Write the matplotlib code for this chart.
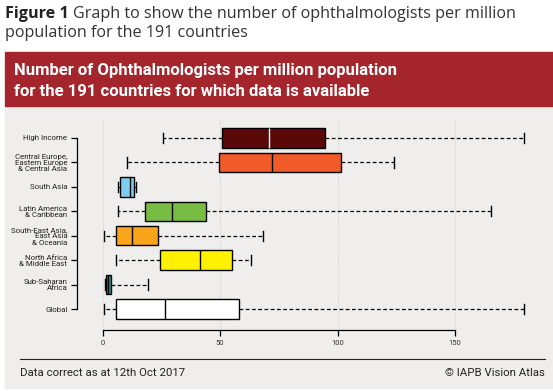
import matplotlib
matplotlib.use("Agg")
import matplotlib.pyplot as plt
from matplotlib.patches import Rectangle

categories = ["High Income", "Central Europe,\nEastern Europe\n& Central Asia", "South Asia",
              "Latin America\n& Caribbean", "South-East Asia,\nEast Asia\n& Oceania",
              "North Africa\n& Middle East", "Sub-Saharan\nAfrica", "Global"]
whisker_low = [25.7, 10.5, 6.8, 6.7, 0.8, 5.8, 1.0, 0.8]
q1 = [50.9, 49.5, 7.5, 18.1, 5.8, 24.6, 1.6, 5.8]
median = [70.9, 72.1, 11.7, 29.5, 12.7, 41.3, 2.4, 26.5]
q3 = [94.8, 101.7, 13.6, 44.0, 23.6, 55.2, 3.7, 57.9]
whisker_high = [179.4, 124.1, 14.4, 165.5, 68.3, 63.3, 19.3, 179.4]
box_colors = ["#5a0808", "#f15a29", "#7fcdee", "#78bd43", "#f8a51c", "#fff100", "#169a8e", "#ffffff"]
median_colors = ["white", "black", "black", "black", "black", "black", "black", "black"]
xticks = [0, 50, 100, 150]

W, H = 553, 391
fig = plt.figure(figsize=(W / 100, H / 100), dpi=100)
fig.patch.set_facecolor("white")

def fx(px):
    return px / W

def fy(py):
    return 1 - py / H

narrow = ["Roboto", "DejaVu Sans"]

# grey panel and red banner
fig.patches.append(Rectangle((fx(5), fy(388)), fx(548), (388 - 106) / H,
                             transform=fig.transFigure, color="#efeeec", zorder=-10))
fig.patches.append(Rectangle((fx(5), fy(106)), fx(548), (106 - 52) / H,
                             transform=fig.transFigure, color="#a4262c", zorder=-10))

# figure caption
t1 = fig.text(fx(5), fy(14), "Figure 1", fontsize=11.6, family="Open Sans", weight="bold",
              va="center", color="#222222")
renderer = fig.canvas.get_renderer()
bb = t1.get_window_extent(renderer)
fig.text(bb.x1 / W + fx(4), fy(14), "Graph to show the number of ophthalmologists per million",
         fontsize=11.6, family="Open Sans", va="center", color="#333333")
fig.text(fx(5), fy(33), "population for the 191 countries", fontsize=11.6, family="Open Sans",
         va="center", color="#333333")

fig.text(fx(14), fy(71), "Number of Ophthalmologists per million population",
         fontsize=12, family=narrow, weight="bold", color="white", va="center")
fig.text(fx(14), fy(91), "for the 191 countries for which data is available",
         fontsize=12, family=narrow, weight="bold", color="white", va="center")

# axes
x0px, x1px = 77, 540
y_top, y_bot = 120, 330
ax = fig.add_axes([fx(x0px), fy(y_bot), (x1px - x0px) / W, (y_bot - y_top) / H])
ax.set_zorder(1)
ax.set_facecolor("none")
scale = 2.35
zero_px = 102.5
ax.set_xlim((x0px - zero_px) / scale, (x1px - zero_px) / scale)
n = len(categories)
positions = list(range(n, 0, -1))
sp = (309 - 138) / (n - 1)
ax.set_ylim(1 - (y_bot - 309) / sp, n + (138 - y_top) / sp)

stats = []
for i in range(n):
    stats.append(dict(whislo=whisker_low[i], q1=q1[i], med=median[i], q3=q3[i],
                      whishi=whisker_high[i], fliers=[], label=categories[i]))

bp = ax.bxp(stats, positions=positions, vert=False, widths=0.8, patch_artist=True,
            showfliers=False, capwidths=0.42,
            boxprops=dict(edgecolor="black", linewidth=1.0),
            whiskerprops=dict(color="black", linewidth=0.9, linestyle=(0, (3, 2))),
            capprops=dict(color="black", linewidth=1.0),
            medianprops=dict(linewidth=1.0), zorder=3)
for patch, c in zip(bp["boxes"], box_colors):
    patch.set_facecolor(c)
for m, c in zip(bp["medians"], median_colors):
    m.set_color(c)

for xv in xticks:
    ax.axvline(xv, color="#d4d4d4", linewidth=0.8, linestyle=(0, (1, 1)), zorder=1)

ax.set_xticks(xticks)
ax.set_xticklabels([str(v) for v in xticks], fontsize=5.5, family=narrow, color="#333333")
ax.set_yticks(positions)
ax.set_yticklabels(categories, fontsize=5.7, family=narrow, color="#222222", linespacing=1.05)
ax.tick_params(axis="both", length=4, width=0.9, color="black", pad=3)
for s in ["top", "right"]:
    ax.spines[s].set_visible(False)
ax.spines["left"].set_bounds(1, n)
ax.spines["bottom"].set_bounds(0, 150)
ax.spines["left"].set_linewidth(0.9)
ax.spines["bottom"].set_linewidth(0.9)

# footer
fig.add_artist(plt.Line2D([fx(20), fx(545)], [fy(359), fy(359)], transform=fig.transFigure,
                          color="#222222", linewidth=0.8))
fig.text(fx(20), fy(373), "Data correct as at 12th Oct 2017", fontsize=8.2, family=narrow,
         va="center", color="#222222")
fig.text(fx(545), fy(373), "© IAPB Vision Atlas", fontsize=8.2, family=narrow,
         va="center", ha="right", color="#222222")

fig.savefig("out.png", dpi=100, facecolor="white")
